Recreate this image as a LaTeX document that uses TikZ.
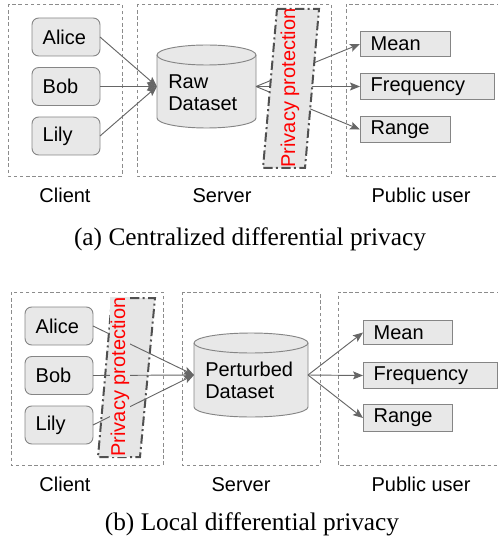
\documentclass[tikz,border=0pt]{standalone}
\usepackage{fontspec}
\setmainfont{Liberation Sans}
\newfontfamily\capfont{Liberation Serif}
\usetikzlibrary{arrows.meta}
\definecolor{boxfill}{HTML}{E8E8E8}
\definecolor{boxline}{HTML}{858585}
\definecolor{lnk}{HTML}{666666}
\definecolor{framecol}{HTML}{8C8C8C}
\definecolor{ppline}{HTML}{505050}
\definecolor{ppfill}{HTML}{E6E6E6}
\begin{document}
\begin{tikzpicture}[x=0.75pt,y=-0.75pt,
  txt/.style={font=\fontsize{15}{16.5}\selectfont},
  framebox/.style={draw=framecol, line width=0.7pt, dash pattern=on 2.6pt off 2pt},
  person/.style={txt, draw=boxline, fill=boxfill, rounded corners=5pt, line width=0.7pt,
    minimum width=51pt, minimum height=28.5pt, inner xsep=8pt, text width=35pt, align=left, outer sep=0pt},
  result/.style={txt, draw=boxline, fill=boxfill, line width=0.7pt, minimum height=18.5pt,
    inner xsep=8pt, align=left, outer sep=0pt},
  dsbox/.style={minimum width=74.25pt, outer sep=0pt, inner sep=0pt},
  cyl/.style={draw=boxline, fill=boxfill, line width=0.7pt},
  dstext/.style={txt, align=left, inner sep=0pt, anchor=west},
  link/.style={draw=lnk, line width=0.7pt, -{Stealth[length=7.5pt,width=6pt,inset=1.5pt]}},
  ppbox/.style={draw=ppline, fill=ppfill, line width=1.5pt, dash pattern=on 7pt off 2.5pt on 1.5pt off 2.5pt},
  pptext/.style={txt, text=red, rotate=90, inner sep=0.5pt},
  grp/.style={txt, anchor=base},
  captext/.style={font=\capfont\fontsize{19}{21}\selectfont, anchor=base}
]
\useasboundingbox (0,0) rectangle (498,552);

% ===== (a) centralized =====
\draw[framebox] (8,4) rectangle (122,176);
\draw[framebox] (137,4) rectangle (331,176);
\draw[framebox] (500,4) -- (346,4) -- (346,176) -- (500,176);

\node[person] (a1) at (66,37) {Alice};
\node[person] (b1) at (66,86.5) {Bob};
\node[person] (l1) at (66,136) {Lily};

\node[dsbox, minimum height=62.25pt] (raw) at (206.5,86.5) {};
\filldraw[cyl] ([yshift=-7.5pt]raw.north west) -- ([yshift=7.5pt]raw.south west)
  arc[start angle=180,end angle=360,x radius=37.125pt,y radius=7.5pt]
  -- ([yshift=-7.5pt]raw.north east)
  arc[start angle=0,end angle=180,x radius=37.125pt,y radius=7.5pt] -- cycle;
\draw[cyl, fill=none] ([yshift=-7.5pt]raw.north west)
  arc[start angle=180,end angle=360,x radius=37.125pt,y radius=7.5pt];
\node[dstext] (rawl) at ([xshift=8.25pt,yshift=-4.5pt]raw.west) {Raw\\Dataset};

\node[result, minimum width=67.5pt, text width=51.5pt] (m1) at (405,44) {Mean};
\node[result, minimum width=100.5pt, text width=84.5pt] (f1) at (427,86.5) {Frequency};
\node[result, minimum width=67.5pt, text width=51.5pt] (r1) at (405,129.5) {Range};

\draw[link] (a1.east) -- (raw.west);
\draw[link] (b1.east) -- (raw.west);
\draw[link] (l1.east) -- (raw.west);

\draw[link] (raw.east) -- (m1.west);
\draw[link] (raw.east) -- (f1.west);
\draw[link] (raw.east) -- (r1.west);

\filldraw[ppbox] (277,9) -- (319,9) -- (305,168) -- (263,168) -- cycle;
\node[pptext] (pp1) at (290,88) {Privacy protection};

\node[grp] (c1) at (65,202) {Client};
\node[grp] (s1) at (222,202) {Server};
\node[grp] (p1) at (421,202) {Public user};
\node[captext] (capa) at (250,245) {(a) Centralized differential privacy};

% ===== (b) local =====
\draw[framebox] (11,292) rectangle (163,465);
\draw[framebox] (182,292) rectangle (320,465);
\draw[framebox] (500,292) -- (338,292) -- (338,465) -- (500,465);

\node[person] (a2) at (59,326) {Alice};
\node[person] (b2) at (59,375.5) {Bob};
\node[person] (l2) at (59,425) {Lily};

\filldraw[ppbox] (112,298) -- (155,298) -- (140,457) -- (98,457) -- cycle;

\node[dsbox, minimum width=85.5pt, minimum height=63pt] (pert) at (251,375) {};
\filldraw[cyl] ([yshift=-7.5pt]pert.north west) -- ([yshift=7.5pt]pert.south west)
  arc[start angle=180,end angle=360,x radius=42.75pt,y radius=7.5pt]
  -- ([yshift=-7.5pt]pert.north east)
  arc[start angle=0,end angle=180,x radius=42.75pt,y radius=7.5pt] -- cycle;
\draw[cyl, fill=none] ([yshift=-7.5pt]pert.north west)
  arc[start angle=180,end angle=360,x radius=42.75pt,y radius=7.5pt];
\node[dstext] (pertl) at ([xshift=8.25pt,yshift=-4.2pt]pert.west) {Perturbed\\Dataset};

\node[result, minimum width=66.75pt, text width=50.75pt] (m2) at (407.5,332.5) {Mean};
\node[result, minimum width=100.5pt, text width=84.5pt] (f2) at (430,375.5) {Frequency};
\node[result, minimum width=66.75pt, text width=50.75pt] (r2) at (407.5,418) {Range};

\draw[link] (a2.east) -- (pert.west);
\draw[link] (b2.east) -- (pert.west);
\draw[link] (l2.east) -- (pert.west);

\node[pptext, fill=ppfill] (pp2) at (120,377) {Privacy protection};

\draw[link] (pert.east) -- (m2.west);
\draw[link] (pert.east) -- (f2.west);
\draw[link] (pert.east) -- (r2.west);

\node[grp] (c2) at (65,491) {Client};
\node[grp] (s2) at (241,491) {Server};
\node[grp] (p2) at (421,491) {Public user};
\node[captext] (capb) at (252,530) {(b) Local differential privacy};
\end{tikzpicture}
\end{document}
